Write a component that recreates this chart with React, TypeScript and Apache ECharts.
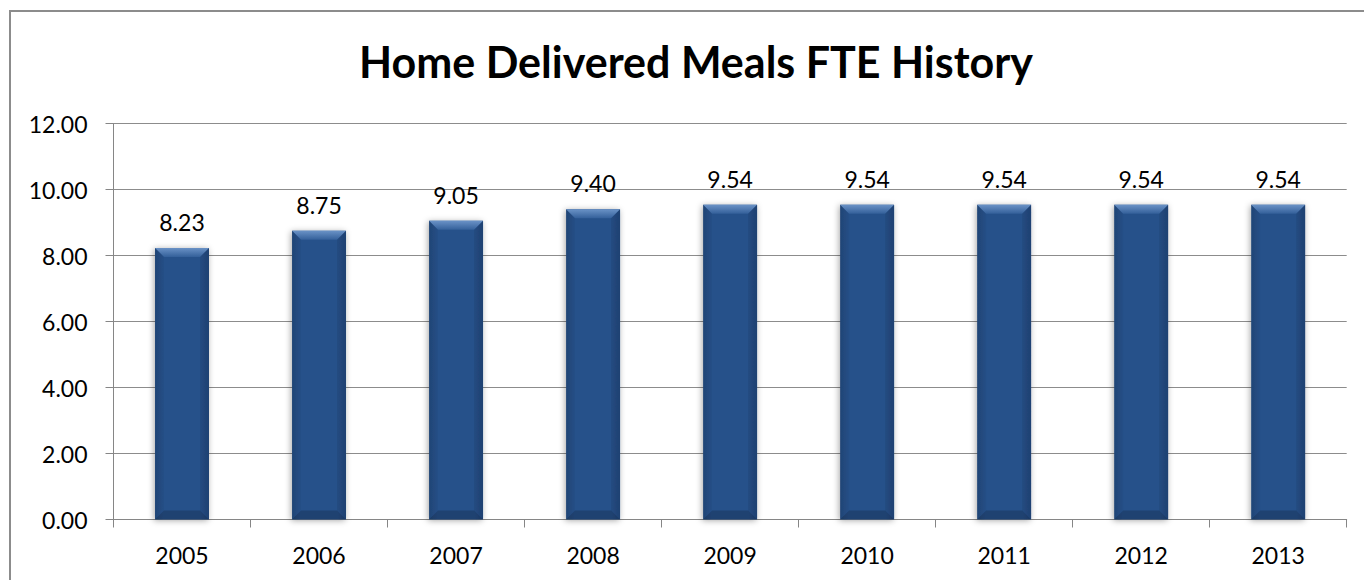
import React, { useEffect, useRef } from "react";
import * as echarts from "echarts";

const years = ["2005", "2006", "2007", "2008", "2009", "2010", "2011", "2012", "2013"];
const fte = [8.23, 8.75, 9.05, 9.4, 9.54, 9.54, 9.54, 9.54, 9.54];
const titleText = "Home Delivered Meals FTE History";

export default function App() {
  const ref = useRef<HTMLDivElement>(null);
  useEffect(() => {
    if (!ref.current) return;
    const chart = echarts.init(ref.current, null, { renderer: "svg" });
    const FONT = "Lato";
    const renderItem = (params: any, api: any) => {
      const idx = api.value(0);
      const val = api.value(1);
      const top = api.coord([idx, val]);
      const bot = api.coord([idx, 0]);
      const w = api.size([1, 0])[0] * 0.394;
      const x0 = top[0] - w / 2;
      const x1 = top[0] + w / 2;
      const y0 = top[1];
      const y1 = bot[1];
      const b = 9;
      return {
        type: "group",
        children: [
          {
            type: "rect",
            shape: { x: x0, y: y0, width: w, height: y1 - y0 },
            style: {
              fill: new echarts.graphic.LinearGradient(0, 0, 1, 0, [
                { offset: 0, color: "#224879" },
                { offset: 0.15, color: "#28518a" },
                { offset: 0.85, color: "#28518a" },
                { offset: 1, color: "#21467a" },
              ]),
              shadowBlur: 6,
              shadowColor: "rgba(0,0,0,0.35)",
              shadowOffsetX: -1,
              shadowOffsetY: 1,
            },
          },
          {
            type: "polygon",
            shape: { points: [[x0, y0], [x1, y0], [x1 - b, y0 + b], [x0 + b, y0 + b]] },
            style: {
              fill: new echarts.graphic.LinearGradient(0, 0, 0, 1, [
                { offset: 0, color: "#6a92c6" },
                { offset: 1, color: "#34609a" },
              ]),
            },
          },
          {
            type: "polygon",
            shape: { points: [[x1, y0], [x1, y1], [x1 - b, y1 - b], [x1 - b, y0 + b]] },
            style: { fill: "rgba(0,0,0,0.07)" },
          },
          {
            type: "polygon",
            shape: { points: [[x0, y0], [x0, y1], [x0 + b, y1 - b], [x0 + b, y0 + b]] },
            style: { fill: "rgba(0,0,0,0.03)" },
          },
          {
            type: "polygon",
            shape: { points: [[x0, y1], [x1, y1], [x1 - b, y1 - b], [x0 + b, y1 - b]] },
            style: { fill: "rgba(0,0,0,0.18)" },
          },
          {
            type: "text",
            style: {
              x: top[0],
              y: y0 - 26,
              text: Number(val).toFixed(2),
              fill: "#000",
              font: `23px ${FONT}`,
              align: "center",
              verticalAlign: "middle",
            },
          },
        ],
      };
    };
    chart.setOption({
      animation: false,
      backgroundColor: "#fff",
      title: {
        text: titleText,
        left: 691,
        textAlign: "center",
        top: 35,
        textStyle: { fontFamily: FONT, fontWeight: "bold", fontSize: 43, color: "#000" },
      },
      graphic: [
        {
          type: "rect",
          shape: { x: 10, y: 11, width: 1420, height: 700 },
          style: { fill: "none", stroke: "#8c8c8c", lineWidth: 2 },
          silent: true,
        },
      ],
      grid: { left: 113.5, right: 17.3, top: 123.5, bottom: 60.5 },
      xAxis: {
        type: "category",
        data: years,
        axisLine: { show: true, lineStyle: { color: "#868686", width: 1 } },
        axisTick: { show: true, length: 8, lineStyle: { color: "#868686" }, alignWithLabel: false },
        axisLabel: { fontFamily: FONT, fontSize: 23, color: "#000", margin: 24 },
      },
      yAxis: {
        type: "value",
        min: 0,
        max: 12,
        interval: 2,
        axisLine: { show: true, lineStyle: { color: "#868686", width: 1 } },
        axisTick: { show: true, length: 8, lineStyle: { color: "#868686" } },
        splitLine: { show: true, lineStyle: { color: "#8c8c8c", width: 1 } },
        axisLabel: {
          fontFamily: FONT,
          fontSize: 23,
          color: "#000",
          margin: 26,
          formatter: (v: number) => v.toFixed(2),
        },
      },
      series: [
        {
          type: "custom",
          renderItem,
          data: fte.map((v, i) => [i, v]),
          encode: { x: 0, y: 1 },
        },
      ],
    });
    return () => chart.dispose();
  }, []);
  return (
    <div
      ref={ref}
      style={{ position: "fixed", left: 0, top: 0, width: 1364, height: 580 }}
    />
  );
}
